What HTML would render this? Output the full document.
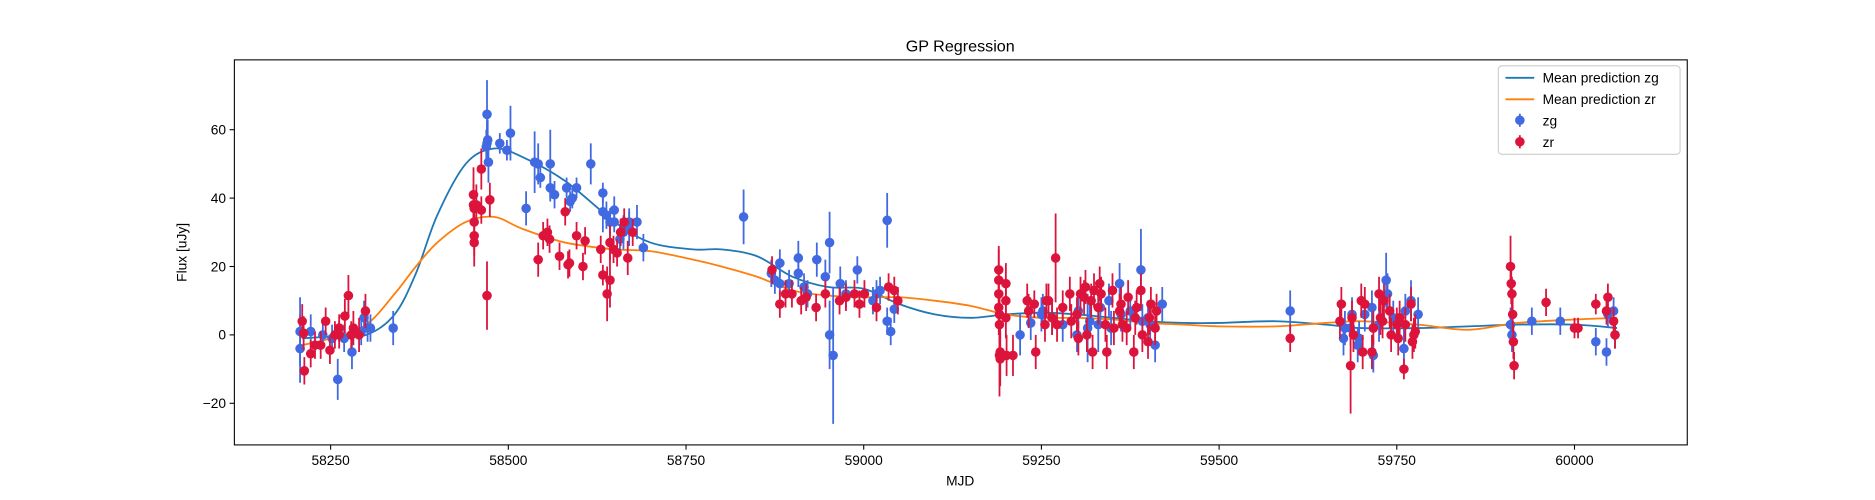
<!DOCTYPE html>
<html><head><meta charset="utf-8"><style>
html,body{margin:0;padding:0;background:#fff;}
svg{display:block;font-family:"Liberation Sans",sans-serif;}
</style></head><body>
<svg id="chart" width="1875" height="500" viewBox="0 0 1568 418" xmlns="http://www.w3.org/2000/svg">
<rect width="1568" height="418" fill="#fff"/>
<g id="plot"></g>
<rect x="196" y="50" width="1215" height="322" fill="none" stroke="#000" stroke-width="0.9"/>
<text x="803" y="43" font-size="13.5" text-anchor="middle">GP Regression</text>
<text x="803" y="406" font-size="11.5" text-anchor="middle">MJD</text>
<text transform="translate(156,211) rotate(-90)" font-size="11.5" text-anchor="middle">Flux [uJy]</text>
<g id="axes"></g>
<g>
<rect x="1253" y="55" width="152" height="74" rx="3" fill="#fff" fill-opacity="0.8" stroke="#ccc" stroke-width="0.9"/>
<line x1="1259" y1="65" x2="1283" y2="65" stroke="#1f77b4" stroke-width="1.5"/>
<text x="1290" y="69" font-size="11.5">Mean prediction zg</text>
<line x1="1259" y1="83" x2="1283" y2="83" stroke="#ff7f0e" stroke-width="1.5"/>
<text x="1290" y="87" font-size="11.5">Mean prediction zr</text>
<line x1="1271" y1="95" x2="1271" y2="106" stroke="royalblue" stroke-width="1.5"/>
<circle cx="1271" cy="100.5" r="4" fill="royalblue"/>
<text x="1290" y="105" font-size="11.5">zg</text>
<line x1="1271" y1="113" x2="1271" y2="124" stroke="crimson" stroke-width="1.5"/>
<circle cx="1271" cy="118.5" r="4" fill="crimson"/>
<text x="1290" y="123" font-size="11.5">zr</text>
</g>
</svg>
<script>
const xTicks = [58250, 58500, 58750, 59000, 59250, 59500, 59750, 60000];
const yTicks = [-20, 0, 20, 40, 60];
const zgMjd = [58207,58207,58222,58239,58252,58260,58269,58280,58293,58297,58302,58306,58338,
58470,58470,58471,58469,58472,58488,58498,58503,58525,58537,58542,58545,58559,58559,58565,58582,58587,58590,58596,58616,58633,58633,58638,58643,58649,58649,58657,58662,58670,58670,58681,58690,
58831,58870,58875,58882,58882,58895,58908,58908,58916,58921,58934,58946,58952,58952,58957,58967,58975,58991,59013,59018,59023,59033,59033,59038,59043,
59220,59235,59250,59252,59265,59280,59300,59302,59315,59318,59330,59333,59345,59348,59360,59362,59375,59390,59392,59400,59403,59410,59420,
59600,59675,59677,59685,59687,59695,59697,59705,59715,59717,59725,59735,59737,59745,59760,59762,59770,59780,
59910,59912,59940,59980,60030,60045,60047,60055,60057];
const zgFlux = [1,-4,1,0,-1,-13,-1,-5,1,5,2,2,2,
64.5,56,57,55,50.5,56,54,59,37,50.5,50,46,50,43,41,43,39,40,43,50,41.5,36,35,33,36.5,33,28,30,33,31,33,25.5,
34.5,18,16,21,15,15,22.5,18,14,12,22,17,0,27,-6,15,12,19,10,12,13,33.5,4,1,7.5,
0,3.5,6,7,5,3,0,7,2,4,3,8,10,2,15,6,7,19,4,5,3,-3,9,
7,-1,2,2,6,-3,-1,6,8,-6,3,16,12,5,-4,7,10,6,
3,0,4,4,-2,-5,6,7,0];
const zgErr = [10,10,5,4,4,6,4,5,4,5,4,4,5,
10,6,6,5,6,3,3,8,5,9,6,3,10,4,4,3,3,3,3,6,3,6,4,4,4,3,4,5,4,5,5,4,
8,4,4,4,4,4,5,4,4,4,5,5,10,9,20,5,4,4,4,4,4,8,4,4,4,
6,5,5,5,5,5,5,5,10,5,8,5,5,5,6,5,5,12,5,5,5,5,5,
6,5,5,5,5,5,5,5,5,5,5,8,6,5,6,5,6,5,
5,5,4,4,4,4,4,4,4];
const zrMjd = [58210,58212,58213,58222,58228,58236,58243,58249,58256,58262,58262,58270,58275,58279,58282,58290,58299,
58451,58451,58452,58452,58452,58452,58455,58462,58462,58470,58474,
58542,58549,58555,58558,58572,58580,58584,58586,58596,58605,58608,58630,58633,58639,58643,58643,58648,58653,58658,58663,58668,58675,
58871,58882,58890,58899,58912,58919,58933,58946,58966,58975,58987,58994,59001,59018,59035,59043,59048,
59190,59190,59190,59190,59191,59191,59191,59192,59192,59200,59200,59200,59201,59210,59230,59232,59240,59242,59255,59257,59260,59265,59270,59272,59280,59290,59292,59300,59302,59305,59310,59312,59314,59320,59322,59324,59330,59332,59334,59340,59342,59350,59352,59360,59362,59364,59370,59372,59380,59382,59384,59390,59392,59400,59402,59404,59410,59412,
59600,59670,59672,59685,59687,59689,59700,59702,59705,59715,59717,59725,59727,59730,59732,59740,59742,59750,59752,59754,59760,59762,59770,59772,59774,59776,
59910,59911,59912,59913,59914,59915,59960,60000,60005,60030,60045,60047,60055,60057];
const zrFlux = [4,0.5,-10.5,-5.5,-3,-3,4,-4.5,0,2,0,5.5,11.5,0,2,0,7,
41,38,37,33,29,27,38,48.5,36.5,11.5,39.5,
22,29,30,28,23,36,20.5,21,29,20,27.5,25,17.5,12,16,27,25,24,30,33,22.5,30,
19,9,12,12,10,11,8,12,10,11,12,9,12,8,14,13,10,
19,16,12,8,6,3,-6,-7,-5,15,10,5,-6,-6,10,7,9,-5,3,10,10,5,22.5,3,8,12,4,6,-1,12,11,14,0,10,-5,13,8,15,12,3,-5,13,2,7,9,3,2,11,-5,5,8,13,0,-2,5,9,2,7,
-1,4,9,-9,5,0,10,-5,9,-5,2,12,5,4,10,7,0,3,-1,5,-10,3,9,-2,0,1,
20,15,12,6,-2,-9,9.5,2,2,9,7,11,4,0];
const zrErr = [5,5,4,4,4,4,4,4,4,4,4,5,6,4,5,5,5,
8,6,5,8,6,7,6,6,4,10,5,
5,4,4,4,4,4,4,4,4,4,4,4,3,8,8,5,4,4,4,4,5,4,
4,4,4,4,4,4,4,4,4,4,4,4,4,4,4,4,4,
6,10,8,8,6,8,12,8,8,6,6,6,6,6,5,5,4,5,5,5,5,5,13,5,5,5,5,5,5,5,5,5,5,5,5,5,5,5,5,5,5,5,5,5,5,5,5,5,5,5,5,5,5,5,5,5,5,5,
4,5,5,14,5,5,5,5,5,5,5,5,5,5,5,5,5,5,5,5,3,5,5,5,5,5,
9,6,5,5,5,4,4,3,3,3,4,4,4,4];
const gpMjd = [58210,58250,58300,58340,58370,58400,58440,58480,58520,58580,58650,58700,58760,58800,58850,58900,58950,59000,59050,59100,59150,59200,59250,59300,59350,59400,59450,59500,59580,59650,59700,59780,59850,59920,60000,60060];
const gpZg = [-1,-0.5,0,6,18,35,50,54.5,52,45,33,27,25,25,23,17,14,13.5,9,6,5,6,6.5,6,5,4,3.5,3.5,4,3,2,2,2.5,3,3,2];
const gpZr = [-3,-1,3,12,20,27,33,34.5,31,27,25,24.5,22,20,17,13,11.5,11,11,10,8.5,6,5,5,4.5,3.5,3,2.5,2.5,3.5,4,3,1.5,3.5,4.5,5];

const X0=196,X1=1411,Y0=50,Y1=372;
const xS = v => 276.5 + (v-58250)*(148.6/250);
const yS = v => 280 - v*(57.2/20);
const NS='http://www.w3.org/2000/svg';
const plot=document.getElementById('plot'), axes=document.getElementById('axes');
function mk(tag, attrs, parent){const e=document.createElementNS(NS,tag);for(const k in attrs)e.setAttribute(k,attrs[k]);parent.appendChild(e);return e;}

xTicks.forEach(t=>{
  const x=xS(t);
  mk('line',{x1:x,y1:Y1,x2:x,y2:Y1+4,stroke:'#000','stroke-width':0.9},axes);
  const tx=mk('text',{x:x,y:Y1+17,'font-size':11.5,'text-anchor':'middle'},axes);
  
  
  tx.textContent=t;
});
yTicks.forEach(t=>{
  const y=yS(t);
  mk('line',{x1:X0-4,y1:y,x2:X0,y2:y,stroke:'#000','stroke-width':0.9},axes);
  const tx=mk('text',{x:X0-7,y:y+4,'font-size':11.5,'text-anchor':'end'},axes);
  
  
  tx.textContent=(t<0?'\u2212'+(-t):t);
});

function smooth(xs, ys){
  const p=xs.map((v,i)=>[xS(v),yS(ys[i])]);
  let d='M'+p[0][0]+','+p[0][1];
  for(let i=0;i<p.length-1;i++){
    const a=p[Math.max(0,i-1)],b=p[i],c=p[i+1],e=p[Math.min(p.length-1,i+2)];
    const c1=[b[0]+(c[0]-a[0])/6,b[1]+(c[1]-a[1])/6], c2=[c[0]-(e[0]-b[0])/6,c[1]-(e[1]-b[1])/6];
    d+=' C'+c1[0]+','+c1[1]+' '+c2[0]+','+c2[1]+' '+c[0]+','+c[1];
  }
  return d;
}
const lz=mk('path',{d:smooth(gpMjd,gpZg),fill:'none',stroke:'#1f77b4','stroke-width':1.5},plot);


const lr=mk('path',{d:smooth(gpMjd,gpZr),fill:'none',stroke:'#ff7f0e','stroke-width':1.5},plot);



function pts(ms, fs, es, col, name){
  ms.forEach((m,i)=>{
    const x=xS(m), y=yS(fs[i]);
    const g=mk('g',{},plot);
    
    
    mk('line',{x1:x,y1:yS(fs[i]+es[i]),x2:x,y2:yS(fs[i]-es[i]),stroke:col,'stroke-width':1.5},g);
    mk('circle',{cx:x,cy:y,r:4,fill:col},g);
  });
}
pts(zgMjd,zgFlux,zgErr,'royalblue','zg-point');
pts(zrMjd,zrFlux,zrErr,'crimson','zr-point');
</script>
</body></html>
